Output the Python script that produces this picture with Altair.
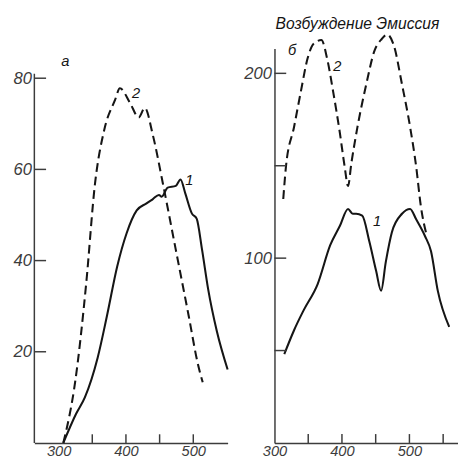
import altair as alt
import pandas as pd

# ---------------- data ----------------
# Panel "а"
a1_x = [307, 326, 339, 358, 372, 387, 401, 416, 430, 440, 449, 453, 462, 474, 481, 488, 498, 505, 513, 522, 535, 551]
a1_y = [0, 6.4, 10, 18.7, 28, 38.7, 46, 51, 52.5, 53.5, 54.4, 54, 56, 56.4, 57.8, 54.8, 50.3, 49.2, 42.4, 33.8, 24.5, 16.1]
a2_x = [307, 325, 341, 354, 368, 384, 391, 406, 419, 428, 440, 455, 474, 493, 507, 514]
a2_y = [0, 13.8, 35, 56.8, 68.8, 75.3, 77.8, 74.6, 71.4, 73.5, 67.5, 56.8, 42.4, 28, 17.2, 13.3]

# Panel "б"
b1_x = [314.5, 329, 343.5, 364, 382.6, 397, 409, 416, 421, 430, 440.6, 450.7, 458, 465, 474, 489, 501, 510, 523, 532, 542, 559]
b1_y = [48, 61, 72, 86, 107, 117.5, 126.6, 124, 124, 123, 109, 93, 82.4, 98, 114, 124, 126.6, 121, 112, 103.7, 82.4, 62.8]
b2_x = [313, 317, 329, 339, 349, 358, 369.5, 378, 387, 397, 404, 409, 414, 423, 436, 448, 459, 467, 477, 489, 501, 510, 517, 526]
b2_y = [132, 149.5, 171, 190, 208, 216, 218, 208, 190, 167.5, 149.5, 139, 151.5, 171, 194, 212, 218.6, 221, 215, 194, 171, 149.5, 128, 111.7]

a_xlabels = [300, 400, 500]
a_xticks = [350, 400, 450, 500]
a_yticks = [20, 40, 60, 80]
b_xlabels = [300, 400, 500]
b_xticks = [350, 400, 450, 500, 550]
b_yticks = [50, 100, 150, 200]
b_ylabels = [100, 200]

a_texts = ["а", "1", "2"]
a_text_x = [310, 494, 415]
a_text_y = [83.7, 57.7, 76.8]
b_texts = ["б", "2", "1"]
b_text_x = [326, 393, 452]
b_text_y = [212.3, 204, 119.8]
b_title = ["Возбуждение Эмиссия"]
b_title_x = [423]
b_title_y = [226.6]

# ---------------- styling ----------------
INK = "#151515"
AX = "#3c3c3c"
FONT = "Liberation Sans"

A_XDOM = [264, 551]
A_YDOM = [0, 86.5]
B_XDOM = [300, 572]
B_YDOM = [0, 213.4]
W_A, W_B, H = 198, 188, 404


def axis_x(vals):
    return alt.Axis(values=vals, tickSize=0, grid=False, domain=True, domainColor=AX,
                    domainWidth=1.5, labelColor=AX, labelFont=FONT, labelFontStyle="italic",
                    labelFontSize=15, labelPadding=1, labelFlush=False, title=None, format="d")


def axis_y(vals, ext, domain):
    return alt.Axis(values=vals, tickSize=0, grid=False, domain=domain, domainColor=AX,
                    domainWidth=1.5, labelColor=AX, labelFont=FONT, labelFontStyle="italic",
                    labelFontSize=17, labelPadding=3, labelFlush=False, title=None, format="d",
                    minExtent=ext, maxExtent=ext)


def panel(c1x, c1y, c2x, c2y, xdom, ydom, xlab, ylab, xticks, yticks, ext, ydomain_line,
          tx, ty, tt, width, xtick_len, ytick_len, yline_top, title=None):
    xs = alt.Scale(domain=xdom, nice=False, zero=False)
    ys = alt.Scale(domain=ydom, nice=False, zero=False)
    X = lambda: alt.X("x:Q", scale=xs, axis=axis_x(xlab))
    Y = lambda: alt.Y("y:Q", scale=ys, axis=axis_y(ylab, ext, ydomain_line))
    d1 = pd.DataFrame({"x": c1x, "y": c1y})
    d2 = pd.DataFrame({"x": c2x, "y": c2y})
    solid = alt.Chart(d1).mark_line(color=INK, strokeWidth=2.1, interpolate="monotone").encode(
        x=X(), y=Y(), order="x:Q")
    dashed = alt.Chart(d2).mark_line(color=INK, strokeWidth=2.1, strokeDash=[9, 5],
                                     interpolate="monotone").encode(x=X(), y=Y(), order="x:Q")
    yt = pd.DataFrame({"y": yticks, "x": [xdom[0]] * len(yticks),
                       "x2": [xdom[0] + ytick_len] * len(yticks)})
    xt = pd.DataFrame({"x": xticks, "y": [0] * len(xticks), "y2": [xtick_len] * len(xticks)})
    ytr = alt.Chart(yt).mark_rule(color=AX, strokeWidth=1.5).encode(x=X(), x2="x2:Q", y=Y())
    xtr = alt.Chart(xt).mark_rule(color=AX, strokeWidth=1.5).encode(x=X(), y=Y(), y2="y2:Q")
    td = pd.DataFrame({"x": tx, "y": ty, "t": tt})
    txt = alt.Chart(td).mark_text(font=FONT, fontStyle="italic", fontSize=15, color=INK,
                                  align="center", baseline="middle").encode(x=X(), y=Y(), text="t:N")
    layers = [solid, dashed, ytr, xtr, txt]
    if title is not None:
        ttd = pd.DataFrame({"x": title[0], "y": title[1], "t": title[2]})
        layers.append(alt.Chart(ttd).mark_text(font=FONT, fontStyle="italic", fontSize=16,
                                               color=INK, align="center", baseline="middle").encode(
            x=X(), y=Y(), text="t:N"))
    if yline_top is not None:
        yl = pd.DataFrame({"x": [xdom[0]], "y": [0], "y2": [yline_top]})
        layers.append(alt.Chart(yl).mark_rule(color=AX, strokeWidth=1.5).encode(
            x=X(), y=Y(), y2="y2:Q"))
    return alt.layer(*layers).properties(width=width, height=H)


left = panel(a1_x, a1_y, a2_x, a2_y, A_XDOM, A_YDOM, a_xlabels, a_yticks, a_xticks, a_yticks,
             22, False, a_text_x, a_text_y, a_texts, W_A, 1.9, 17.4, 81)
right = panel(b1_x, b1_y, b2_x, b2_y, B_XDOM, B_YDOM, b_xlabels, b_ylabels, b_xticks, b_yticks,
              30, True, b_text_x, b_text_y, b_texts, W_B, 4.8, 17.4, None,
              title=(b_title_x, b_title_y, b_title))

chart = alt.hconcat(left, right, spacing=11).properties(
    padding={"left": 5, "top": 3, "right": 0, "bottom": 0}
).configure_view(stroke=None)

chart.save("out.html", embed_options={"renderer": "svg", "actions": False})
